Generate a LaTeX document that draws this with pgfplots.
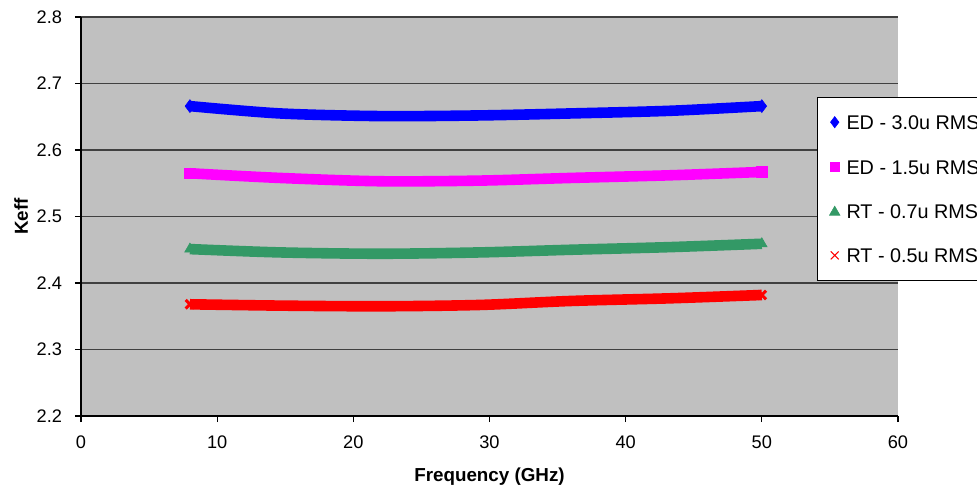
\documentclass[border=0pt]{standalone}
\usepackage{fontspec}
\setmainfont{Liberation Sans}
\usepackage{pgfplots}
\pgfplotsset{compat=1.18}
\definecolor{plotgray}{HTML}{C0C0C0}
\definecolor{sgreen}{HTML}{339966}
\definecolor{mag}{HTML}{FF00FF}
\definecolor{pblue}{HTML}{0000FF}
\definecolor{pred}{HTML}{FF0000}
\newcommand{\fs}{\fontsize{9.1bp}{10.8bp}\selectfont}
\newcommand{\fl}{\fontsize{9.4bp}{11bp}\selectfont}
\newcommand{\flg}{\fontsize{9.9bp}{11.5bp}\selectfont}
\begin{document}
\begin{tikzpicture}
\begin{axis}[
  scale only axis,
  width=408.5bp, height=199.5bp,
  xmin=0, xmax=60, ymin=2.2, ymax=2.8,
  xtick={0,10,...,60},
  ytick={2.2,2.3,2.4,2.5,2.6,2.7,2.8},
  axis x line*=bottom, axis y line*=left,
  axis line style={black, line width=0.6bp, -},
  tick style={black, line width=0.6bp},
  tick align=outside,
  major tick length=3bp,
  axis background/.style={fill=plotgray},
  ymajorgrids,
  major grid style={black!75, line width=0.7bp},
  /pgf/number format/assume math mode=true,
  ticklabel style={font=\fs},
  yticklabel style={/pgf/number format/fixed, /pgf/number format/fixed zerofill, /pgf/number format/precision=1, xshift=-3bp},
  xticklabel style={yshift=-3.5bp},
  xlabel={\bfseries Frequency (GHz)},
  ylabel={\bfseries Keff},
  label style={font=\fl},
  xlabel style={at={(axis description cs:0.5,0)}, anchor=north, inner sep=0pt, yshift=-25.5bp},
  ylabel style={at={(axis description cs:-0.0734,0.5)}, anchor=center, inner sep=0pt},
  legend style={at={(axis description cs:0.9009,0.7995)}, anchor=north west,
    draw=black, line width=0.5bp, fill=white, font=\flg,
    inner xsep=6bp, inner ysep=9bp, row sep=15.1bp,
    nodes={inner sep=0pt, text height=7.1bp, text depth=0bp},
    /tikz/every odd column/.append style={column sep=3.3bp}},
  legend cell align=left,
]
\addplot[pblue, line width=5.3bp, smooth, mark=diamond*, mark size=3.2bp, mark indices={1,7}, mark options={line width=0.3bp},
  legend image code/.code={\path[draw=none,fill=none] (0,0) -- (5bp,0); \begin{scope}[pblue, line width=0.3bp, mark size=2.8bp]\pgftransformshift{\pgfpoint{2.5bp}{0.2bp}}\pgfuseplotmark{diamond*}\end{scope}}]
  coordinates {(8,2.666) (14.6,2.655) (22,2.651) (29.3,2.652) (36,2.655) (43.3,2.659) (50,2.666)};
\addlegendentry{ED - 3.0u RMS}
\addplot[mag, line width=5.3bp, smooth, mark=square*, mark size=2.65bp, mark indices={1,7}, mark options={line width=0.3bp},
  legend image code/.code={\path[draw=none,fill=none] (0,0) -- (5bp,0); \begin{scope}[mag, line width=0.3bp, mark size=2.4bp]\pgftransformshift{\pgfpoint{2.5bp}{0.2bp}}\pgfuseplotmark{square*}\end{scope}}]
  coordinates {(8,2.565) (14.6,2.558) (22,2.553) (29.3,2.554) (36,2.558) (43.3,2.562) (50,2.567)};
\addlegendentry{ED - 1.5u RMS}
\addplot[sgreen, line width=5.3bp, smooth, mark=triangle*, mark size=3bp, mark indices={1,7}, mark options={line width=0.3bp},
  legend image code/.code={\path[draw=none,fill=none] (0,0) -- (5bp,0); \begin{scope}[sgreen, line width=0.3bp, mark size=3bp]\pgftransformshift{\pgfpoint{2.5bp}{-0.4bp}}\pgfuseplotmark{triangle*}\end{scope}}]
  coordinates {(8,2.451) (14.6,2.446) (22,2.444) (29.3,2.446) (36,2.450) (43.3,2.454) (50,2.459)};
\addlegendentry{RT - 0.7u RMS}
\addplot[pred, line width=5.3bp, smooth, mark=x, mark size=3bp, mark indices={1,7}, mark options={line width=1.5bp},
  legend image code/.code={\path[draw=none,fill=none] (0,0) -- (5bp,0); \begin{scope}[pred, line width=0.5bp, mark size=2.8bp]\pgftransformshift{\pgfpoint{2.5bp}{0.2bp}}\pgfuseplotmark{x}\end{scope}}]
  coordinates {(8,2.368) (14.6,2.366) (22,2.365) (29.3,2.367) (36,2.373) (43.3,2.377) (50,2.382)};
\addlegendentry{RT - 0.5u RMS}
\end{axis}
\pgfresetboundingbox
\useasboundingbox (-40.5bp,-34.5bp) rectangle (448bp,208bp);
\end{tikzpicture}
\end{document}
